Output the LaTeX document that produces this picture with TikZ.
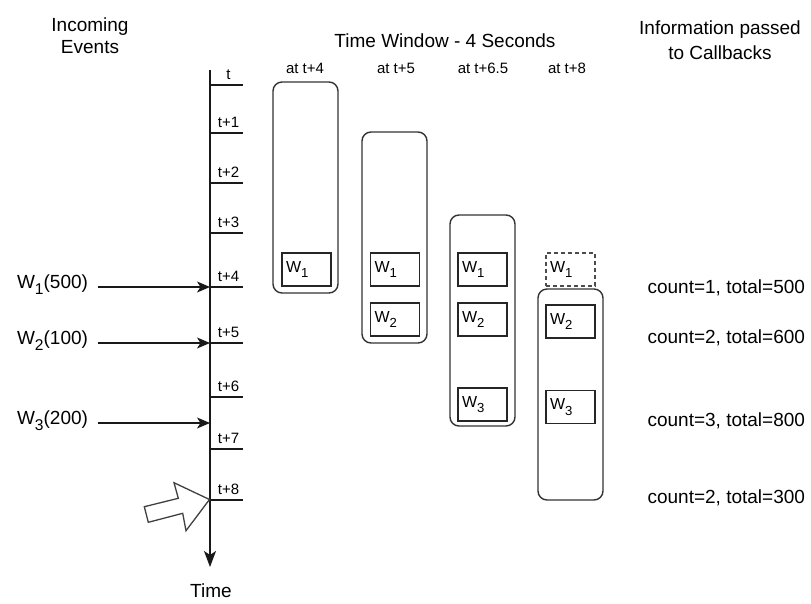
\documentclass[tikz,border=0pt]{standalone}
\usepackage{fontspec}
\usepackage{graphicx}
\setmainfont{Liberation Sans}
\usetikzlibrary{arrows.meta,calc}
\newcommand\wsub[1]{\raisebox{-0.32em}{\scalebox{0.82}{#1}}}
\begin{document}
\begin{tikzpicture}[x=1pt,y=-1pt,
  every node/.style={inner sep=0pt, outer sep=0pt},
  big/.style={font=\fontsize{19}{22}\selectfont},
  lab/.style={font=\fontsize{15}{18}\selectfont},
  ln/.style={line width=1.3pt, draw=black!90},
  arr/.style={ln, -{Stealth[length=13pt,width=11pt,inset=3.5pt]}},
  win/.style={draw=black!80, line width=1.4pt, rounded corners=9pt, minimum width=65pt, minimum height=211pt, anchor=north west},
  wbox/.style={draw=black!85, line width=1.3pt, font=\fontsize{16}{19}\selectfont, text width=41pt, align=left, inner sep=4pt, minimum height=33pt},
  dbox/.style={wbox, draw=black!70, dash pattern=on 4pt off 3pt}
]
\useasboundingbox (0,0) rectangle (811,603);

% headings
\node[big, align=center, anchor=north, font=\fontsize{19}{22}\selectfont] (hin) at (90,17.4) {Incoming\\Events};
\node[big, anchor=base] (htw) at (445,47) {Time Window - 4 Seconds};
\node[big, align=center, anchor=north, font=\fontsize{19}{25.5}\selectfont] (hinfo) at (720,20.5) {Information passed\\to Callbacks};

% timeline
\coordinate (top) at (210,70);
\coordinate (bottom) at (210,567);
\draw[ln, -{Stealth[length=16pt,width=12pt,inset=4pt]}] (top) -- (bottom);
\node[big, anchor=base] (timel) at (211,597) {Time};

\foreach \y/\t [count=\i] in {85/t,133/t+1,183/t+2,233/t+3,287/t+4,343/t+5,397/t+6,449/t+7,500/t+8}{
  \coordinate (k\i) at (210,\y);
  \draw[ln] (k\i) -- ++(33,0) coordinate (ke\i);
  \node[lab, anchor=base] (kl\i) at (228.5,\y-5.5) {\t};
}

% incoming events
\coordinate (h3) at (210,423);
\node[big, anchor=base east] (ev1) at (88,288) {W\wsub{1}(500)};
\node[big, anchor=base east] (ev2) at (88,344) {W\wsub{2}(100)};
\node[big, anchor=base east] (ev3) at (88,424) {W\wsub{3}(200)};
\draw[arr] ($(ev1.east |- k5)+(10,0)$) -- (k5);
\draw[arr] ($(ev2.east |- k6)+(10,0)$) -- (k6);
\draw[arr] ($(ev3.east |- h3)+(10,0)$) -- (h3);

% current-time pointer
\coordinate (cur) at (209.5,499.5);
\draw[line width=1.3pt, draw=black!75, fill=white, line join=miter]
  (cur) -- (174,482.7) -- (178.3,498.3) -- (144.3,506.7) -- (148.3,522.3)
  -- (182.7,513.3) -- (186,530.7) -- cycle;

% window labels
\node[lab, anchor=base] (at1) at (305,73) {at t+4};
\node[lab, anchor=base] (at2) at (396,73) {at t+5};
\node[lab, anchor=base] (at3) at (483,73) {at t+6.5};
\node[lab, anchor=base] (at4) at (567,73) {at t+8};

% windows
\node[win] (win1) at (273,82) {};
\node[win] (win2) at (362,132) {};
\node[win] (win3) at (450,215) {};
\node[win] (win4) at (538,289) {};

\node[wbox] (b11) at (306.5,269.5) {W\wsub{1}};
\node[wbox] (b21) at (395,269.5) {W\wsub{1}};
\node[wbox] (b22) at (395,319.5) {W\wsub{2}};
\node[wbox] (b31) at (482.5,269.5) {W\wsub{1}};
\node[wbox] (b32) at (482.5,319.5) {W\wsub{2}};
\node[wbox] (b33) at (482.5,404.5) {W\wsub{3}};
\node[dbox] (b41) at (570.5,269.5) {W\wsub{1}};
\node[wbox] (b42) at (570.5,321.5) {W\wsub{2}};
\node[wbox] (b43) at (570.5,407) {W\wsub{3}};

% callback info
\node[big, anchor=base east] (c1) at (805,293) {count=1, total=500};
\node[big, anchor=base east] (c2) at (805,343) {count=2, total=600};
\node[big, anchor=base east] (c3) at (805,426.5) {count=3, total=800};
\node[big, anchor=base east] (c4) at (805,503) {count=2, total=300};
\end{tikzpicture}
\end{document}
